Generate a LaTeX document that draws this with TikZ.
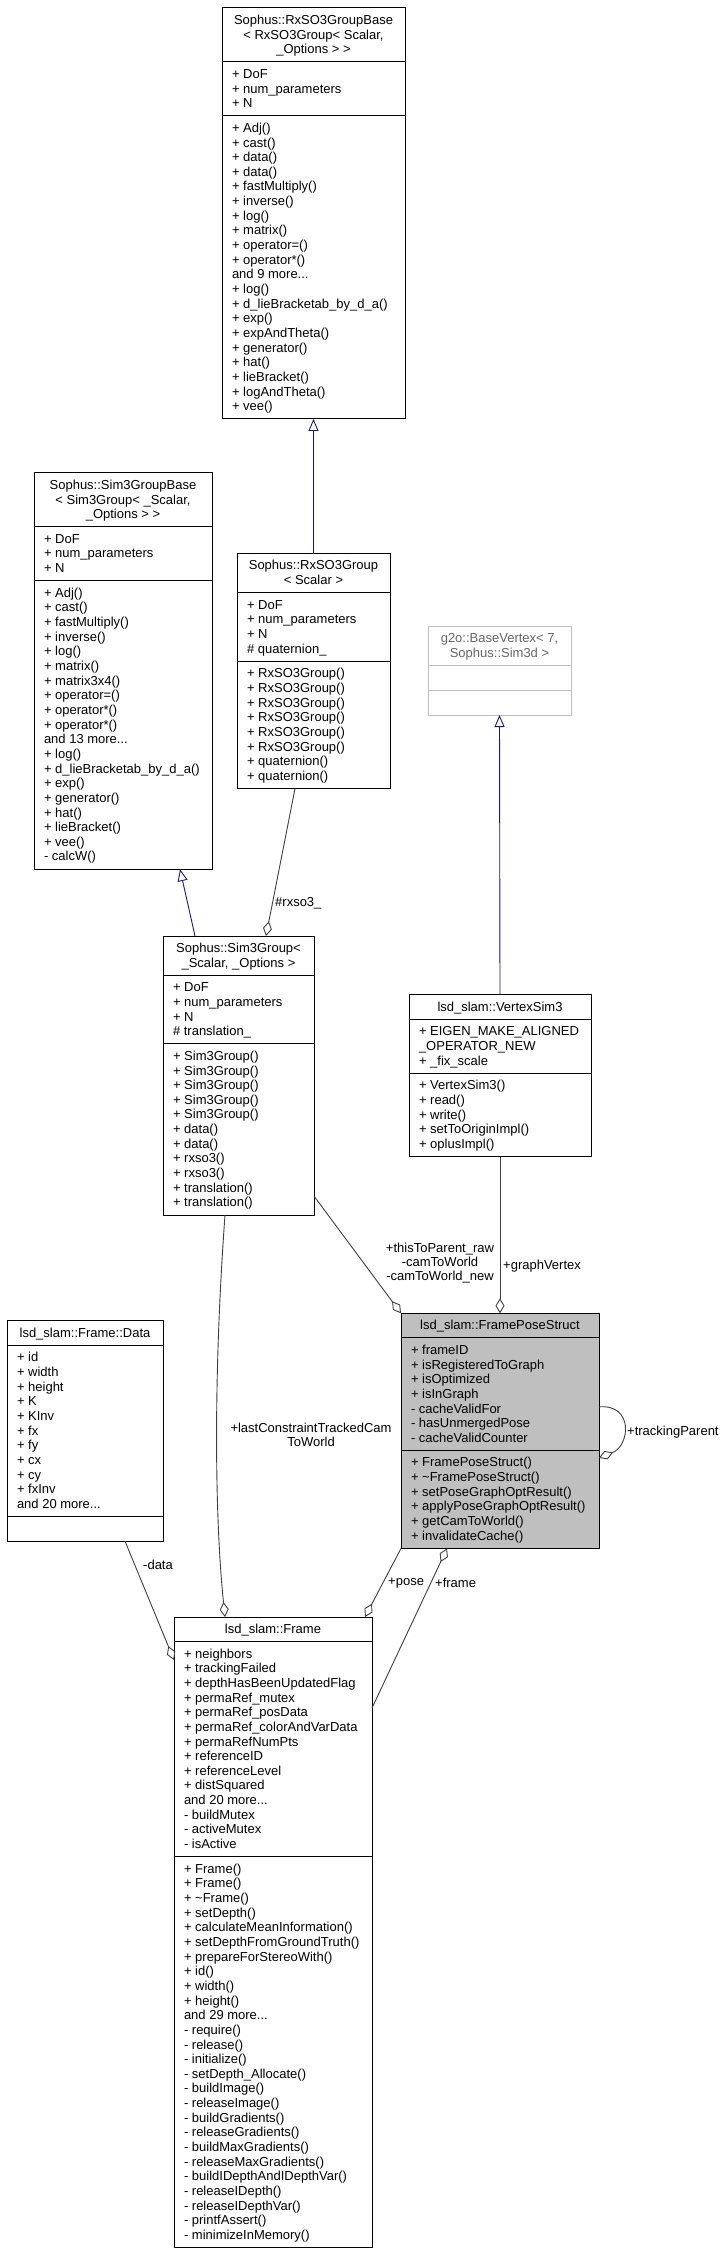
\documentclass[tikz,border=0pt]{standalone}
\usepackage{fontspec}
\setmainfont{Liberation Sans}
\usetikzlibrary{calc,fit,backgrounds,arrows.meta}
\definecolor{grey75}{HTML}{BFBFBF}
\definecolor{grey40}{HTML}{666666}
\definecolor{navyline}{HTML}{191970}
\definecolor{edgegray}{HTML}{404040}
\newcommand{\Sr}{\rule[-3.2pt]{0pt}{14.65pt}}
\tikzset{
  txtcol/.style={text=black},
  boxstyle/.style={draw=black, fill=white, line width=1pt},
  sepstyle/.style={draw=black, line width=1pt},
  hdr/.style={inner sep=0pt, outer sep=0pt, align=center, font=\fontsize{13}{14.65}\selectfont, txtcol},
  mem/.style={inner sep=0pt, outer sep=0pt, align=left, font=\fontsize{13}{14.65}\selectfont, txtcol},
  lbl/.style={inner sep=0pt, align=center, font=\fontsize{13}{14}\selectfont},
  inh/.style={draw=navyline, line width=0.9pt, -{Triangle[open, length=12pt, width=10pt]}},
  comp/.style={draw=edgegray, line width=0.9pt, -{Diamond[open, length=15pt, width=9pt]}},
}
\newcommand{\uml}[8][]{%
  \begin{scope}[#1]
  \coordinate (#2tl) at (#3,#4);
  \coordinate (#2L) at ({#3+10},#4);
  \coordinate (#2R) at ({#3+#5},#4);
  \node[hdr, anchor=north] (#2h) at ({#3+#5/2},{#4+5}) {#6};
  \coordinate (#2s1) at ($(#2h.south)+(0,5)$);
  \node[mem, anchor=north west] (#2a) at ($(#2L |- #2s1)+(0,5)$) {#7};
  \coordinate (#2s2) at ($(#2a.south)+(0,5)$);
  \node[mem, anchor=north west] (#2m) at ($(#2L |- #2s2)+(0,5)$) {#8};
  \coordinate (#2br) at ($(#2R |- #2m.south)+(0,5)$);
  \begin{scope}[on background layer]
    \node[boxstyle, fit=(#2tl)(#2br), inner sep=0pt, outer sep=0pt] (#2) {};
  \end{scope}
  \draw[sepstyle] (#2tl |- #2s1) -- (#2R |- #2s1);
  \draw[sepstyle] (#2tl |- #2s2) -- (#2R |- #2s2);
  \end{scope}
}
\begin{document}
\begin{tikzpicture}[x=1pt,y=-1pt]
\begin{scope}[on background layer]
  \fill[white] (0,0) rectangle (725,2256);
\end{scope}
\useasboundingbox (0,0) rectangle (725,2256);

% RxSO3GroupBase
\uml{rxbase}{222}{8}{183}
{\Sr Sophus::RxSO3GroupBase\\\Sr < RxSO3Group< Scalar,\\\Sr \_Options > >}
{\Sr + DoF\\\Sr + num\_parameters\\\Sr + N}
{\Sr + Adj()\\\Sr + cast()\\\Sr + data()\\\Sr + data()\\\Sr + fastMultiply()\\\Sr + inverse()\\\Sr + log()\\\Sr + matrix()\\\Sr + operator=()\\\Sr + operator*()\\\Sr and 9 more...\\\Sr + log()\\\Sr + d\_lieBracketab\_by\_d\_a()\\\Sr + exp()\\\Sr + expAndTheta()\\\Sr + generator()\\\Sr + hat()\\\Sr + lieBracket()\\\Sr + logAndTheta()\\\Sr + vee()}

% Sim3GroupBase
\uml{s3base}{34}{472.9}{178}
{\Sr Sophus::Sim3GroupBase\\\Sr < Sim3Group< \_Scalar,\\\Sr \_Options > >}
{\Sr + DoF\\\Sr + num\_parameters\\\Sr + N}
{\Sr + Adj()\\\Sr + cast()\\\Sr + fastMultiply()\\\Sr + inverse()\\\Sr + log()\\\Sr + matrix()\\\Sr + matrix3x4()\\\Sr + operator=()\\\Sr + operator*()\\\Sr + operator*()\\\Sr and 13 more...\\\Sr + log()\\\Sr + d\_lieBracketab\_by\_d\_a()\\\Sr + exp()\\\Sr + generator()\\\Sr + hat()\\\Sr + lieBracket()\\\Sr + vee()\\\Sr - calcW()}

% RxSO3Group
\uml{rxso3}{237}{553.5}{153}
{\Sr Sophus::RxSO3Group\\\Sr < Scalar >}
{\Sr + DoF\\\Sr + num\_parameters\\\Sr + N\\\Sr \# quaternion\_}
{\Sr + RxSO3Group()\\\Sr + RxSO3Group()\\\Sr + RxSO3Group()\\\Sr + RxSO3Group()\\\Sr + RxSO3Group()\\\Sr + RxSO3Group()\\\Sr + quaternion()\\\Sr + quaternion()}

% g2o::BaseVertex
\uml[txtcol/.style={text=grey40}, boxstyle/.style={draw=grey75, fill=white, line width=1pt}, sepstyle/.style={draw=grey75, line width=1pt}]{basev}{428}{626.4}{143}
{\Sr g2o::BaseVertex< 7,\\\Sr Sophus::Sim3d >}
{\Sr}
{\Sr}

% Sim3Group
\uml{sim3}{163}{936}{151}
{\Sr Sophus::Sim3Group<\\\Sr \_Scalar, \_Options >}
{\Sr + DoF\\\Sr + num\_parameters\\\Sr + N\\\Sr \# translation\_}
{\Sr + Sim3Group()\\\Sr + Sim3Group()\\\Sr + Sim3Group()\\\Sr + Sim3Group()\\\Sr + Sim3Group()\\\Sr + data()\\\Sr + data()\\\Sr + rxso3()\\\Sr + rxso3()\\\Sr + translation()\\\Sr + translation()}

% VertexSim3
\uml{vsim3}{409}{994.7}{182}
{\Sr lsd\_slam::VertexSim3}
{\Sr + EIGEN\_MAKE\_ALIGNED\\\Sr \_OPERATOR\_NEW\\\Sr + \_fix\_scale}
{\Sr + VertexSim3()\\\Sr + read()\\\Sr + write()\\\Sr + setToOriginImpl()\\\Sr + oplusImpl()}

% FramePoseStruct
\uml[boxstyle/.style={draw=black, fill=grey75, line width=1pt}]{fps}{401}{1313.3}{198}
{\Sr lsd\_slam::FramePoseStruct}
{\Sr + frameID\\\Sr + isRegisteredToGraph\\\Sr + isOptimized\\\Sr + isInGraph\\\Sr - cacheValidFor\\\Sr - hasUnmergedPose\\\Sr - cacheValidCounter}
{\Sr + FramePoseStruct()\\\Sr + \textasciitilde FramePoseStruct()\\\Sr + setPoseGraphOptResult()\\\Sr + applyPoseGraphOptResult()\\\Sr + getCamToWorld()\\\Sr + invalidateCache()}

% Frame::Data
\uml{fdata}{7}{1320.7}{156}
{\Sr lsd\_slam::Frame::Data}
{\Sr + id\\\Sr + width\\\Sr + height\\\Sr + K\\\Sr + KInv\\\Sr + fx\\\Sr + fy\\\Sr + cx\\\Sr + cy\\\Sr + fxInv\\\Sr and 20 more...}
{\Sr}

% Frame
\uml{frame}{174}{1617}{198}
{\Sr lsd\_slam::Frame}
{\Sr + neighbors\\\Sr + trackingFailed\\\Sr + depthHasBeenUpdatedFlag\\\Sr + permaRef\_mutex\\\Sr + permaRef\_posData\\\Sr + permaRef\_colorAndVarData\\\Sr + permaRefNumPts\\\Sr + referenceID\\\Sr + referenceLevel\\\Sr + distSquared\\\Sr and 20 more...\\\Sr - buildMutex\\\Sr - activeMutex\\\Sr - isActive}
{\Sr + Frame()\\\Sr + Frame()\\\Sr + \textasciitilde Frame()\\\Sr + setDepth()\\\Sr + calculateMeanInformation()\\\Sr + setDepthFromGroundTruth()\\\Sr + prepareForStereoWith()\\\Sr + id()\\\Sr + width()\\\Sr + height()\\\Sr and 29 more...\\\Sr - require()\\\Sr - release()\\\Sr - initialize()\\\Sr - setDepth\_Allocate()\\\Sr - buildImage()\\\Sr - releaseImage()\\\Sr - buildGradients()\\\Sr - releaseGradients()\\\Sr - buildMaxGradients()\\\Sr - releaseMaxGradients()\\\Sr - buildIDepthAndIDepthVar()\\\Sr - releaseIDepth()\\\Sr - releaseIDepthVar()\\\Sr - printfAssert()\\\Sr - minimizeInMemory()}

% inheritance edges
\draw[inh] (rxso3.north) -- (rxbase.south);
\draw[inh] ($(sim3.north west)+(32,0)$) -- ($(s3base.south west)+(146,0)$);
\draw[inh] (vsim3.north) -- (basev.south);

% composition edges
\draw[comp] ($(rxso3.south west)+(58,0)$) -- ($(sim3.north west)+(103,0)$);
\node[lbl, anchor=west] (lrx) at (275,903) {\#rxso3\_};

\draw[comp] ($(sim3.south east)+(0,-19)$) -- (fps.north west);
\node[lbl] (lthis) at (440,1263) {+thisToParent\_raw\\-camToWorld\\-camToWorld\_new};

\draw[comp] (vsim3.south) -- (fps.north);
\node[lbl, anchor=west] (lgv) at (503,1266) {+graphVertex};

\draw[comp] ($(sim3.south west)+(62,0)$) .. controls +(-12,165) and +(-10,-97) .. ($(frame.north west)+(51,0)$);
\node[lbl] (llc) at (311,1435) {+lastConstraintTrackedCam\\ToWorld};

\draw[comp] (fps.south west) -- ($(frame.north east)+(-7,0)$);
\node[lbl, anchor=west] (lpose) at (388,1583) {+pose};

\draw[comp] ($(frame.north east)+(0,91)$) -- ($(fps.south west)+(46,0)$);
\node[lbl, anchor=west] (lframe) at (435,1583) {+frame};

\draw[comp] ($(fdata.south west)+(118,0)$) -- ($(frame.north west)+(0,43)$);
\node[lbl, anchor=west] (ldata) at (143,1565) {-data};

\draw[comp] ($(fps.east)+(0,-24)$) .. controls +(35,-3) and +(31,-12) .. ($(fps.east)+(0,27)$);
\node[lbl, anchor=west] (ltp) at (627,1432) {+trackingParent};
\end{tikzpicture}
\end{document}
